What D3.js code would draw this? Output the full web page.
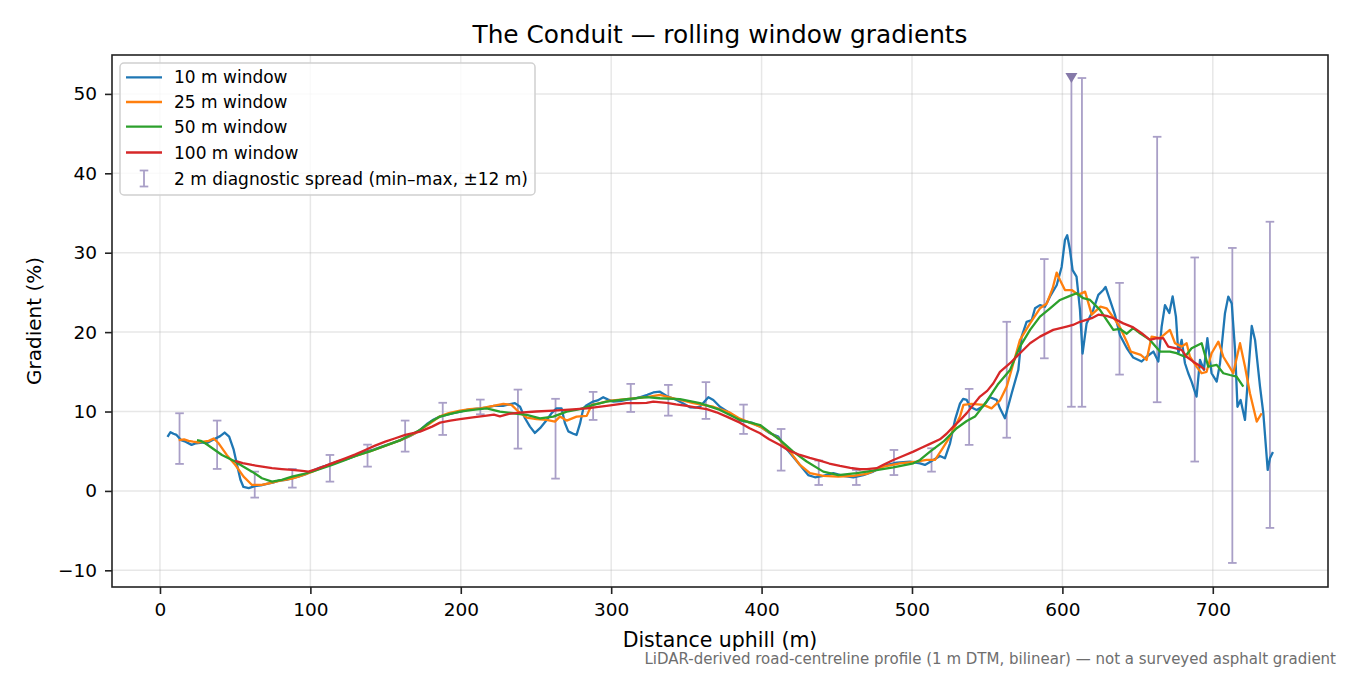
<!DOCTYPE html>
<html><head><meta charset="utf-8">
<script src="https://cdn.jsdelivr.net/npm/d3@7/dist/d3.min.js"></script>
<style>body{margin:0;background:#fff}svg{font-family:"DejaVu Sans",sans-serif}</style>
</head><body><svg id="c" width="1350" height="675"></svg>
<script>
const xTicks=[0,100,200,300,400,500,600,700];
const yTicks=[-10,0,10,20,30,40,50];
const seriesNames=["10 m window","25 m window","50 m window","100 m window"];
const seriesColors=["#1f77b4","#ff7f0e","#2ca02c","#d62728"];
const w10=[[5,6.8],[7,7.4],[9,7.2],[11,7.05],[14,6.4],[17,6.2],[21,5.8],[24,6.0],[28,6.1],[31,6.0],[35,6.4],[40,6.9],[43,7.35],[46,6.84],[49,5.2],[51,3.5],[53.5,1.4],[55.5,0.5],[59,0.35],[63,0.6],[67,0.7],[71,0.9],[75,1.05],[79,1.3],[84,1.4],[88,1.6],[92,1.8],[97,2.1],[101,2.5],[106,2.9],[112,3.3],[118,3.7],[124,4.0],[130,4.4],[136,4.9],[142,5.2],[148,5.6],[154,6.0],[160,6.4],[166,6.9],[170,7.3],[173,7.7],[178,8.5],[182,9.0],[186,9.36],[191,9.6],[195,9.8],[200,10.0],[204,10.2],[208,10.3],[213,10.4],[217,10.5],[222,10.7],[228,10.7],[232,10.9],[236,11.05],[239.4,10.6],[242.7,9.15],[246,8.1],[249.3,7.3],[252.7,7.9],[257,8.9],[260.4,9.8],[263.7,10.4],[267,10.4],[269.3,8.5],[271.5,7.5],[274.8,7.2],[277,7.05],[279.3,8.5],[281.5,10.4],[283.7,10.8],[288,11.25],[291,11.4],[294.7,11.8],[298,11.5],[301.4,11.25],[306,11.3],[310,11.46],[315,11.6],[319,11.8],[324,12.1],[328,12.4],[332.4,12.5],[336.9,11.96],[343.5,11.46],[348,11.0],[352.4,10.54],[356,10.5],[359,10.6],[364.6,11.8],[367.9,11.46],[372.3,10.6],[379,9.78],[385.6,8.9],[393.4,8.6],[399,8.1],[405.6,7.26],[411.1,6.84],[414.5,5.79],[420,4.53],[425.5,3.27],[431,2.0],[435.5,1.72],[441,1.89],[447.7,2.23],[454.3,1.89],[461,1.72],[467.6,2.0],[474.3,2.43],[480.9,3.15],[489.8,3.57],[498.7,3.7],[505.3,3.48],[508.6,3.27],[514.2,3.9],[518.6,4.4],[521.9,4.11],[525.3,6.0],[528.6,8.94],[531.9,11.0],[534,11.6],[536.4,11.46],[538.6,10.6],[543,10.2],[547.5,10.7],[551.8,11.8],[556.3,11.46],[558.5,10.4],[561.8,9.15],[566.3,12.3],[570.7,15.24],[572.9,19.43],[576.2,21.3],[579.6,21.5],[581.8,23],[585.1,23.4],[588.4,23.2],[591.8,24.5],[596.2,25.9],[599.5,28.2],[601.7,31.6],[603.2,32.2],[605,30.4],[606.8,27.8],[609.4,27],[611.7,22.8],[613.4,17.3],[616.1,21.1],[620.5,22.8],[623.9,24.7],[627.2,25.3],[628.7,25.7],[631.6,24.05],[634.9,22.2],[638.3,19.6],[642.8,18.0],[647.1,16.8],[652.7,16.3],[656,16.9],[660.5,17.55],[663.8,16.3],[666,20.7],[668.2,23.4],[671.1,22.4],[673.3,24.5],[675.5,21.95],[677.1,17.34],[679.3,19.02],[681.5,16.08],[683.7,14.82],[685.9,13.77],[689.2,11.88],[691.5,16.5],[694.1,15.24],[696.4,19.23],[699.2,14.82],[702.6,13.77],[704.8,16.08],[708.1,22.38],[710.3,24.47],[712.6,23.6],[714.8,17.76],[716.4,10.6],[718.5,11.46],[721.4,8.94],[723.6,14.82],[725.9,20.78],[728.1,19.02],[731.4,13.14],[733.6,9.78],[736.5,2.64],[738,4.1],[740,4.9]];
const w25=[[12.4,6.4],[16,6.5],[19,6.3],[22,6.2],[25.7,6.1],[29,6.2],[32.4,6.3],[35.7,6.6],[39,6.0],[44.5,4.5],[50,3.3],[55.6,1.8],[61.2,0.75],[67.8,0.75],[74.5,1.05],[80,1.3],[87.8,1.55],[95,2.0],[101,2.4],[110,3.1],[120,3.8],[130,4.4],[140,5.0],[150,5.7],[160,6.4],[170,7.3],[178,8.3],[186.2,9.4],[192,9.8],[199.5,10.1],[206,10.3],[212.8,10.4],[221.6,10.7],[228.3,10.96],[233.7,10.83],[238.2,10.0],[243.8,9.24],[250.4,9.03],[257.1,8.94],[262.6,8.73],[265.9,9.36],[270.4,8.86],[277,9.36],[283.7,9.45],[287,10.83],[292.6,11.05],[299.2,11.37],[310.2,11.55],[323.5,11.8],[332.4,12.1],[341.3,11.67],[354.6,11.05],[367.9,10.6],[379,9.86],[385.6,9.1],[392,8.6],[399,8.1],[405,7.4],[411.1,6.63],[418.9,4.95],[425.5,3.27],[432.2,2.23],[441,1.89],[451,1.8],[461,1.89],[469.8,2.14],[480.9,3.06],[492,3.48],[503.1,3.7],[509.7,3.9],[515.3,3.9],[519.7,5.16],[525.3,6.84],[531.9,9.36],[534.2,10.83],[539.7,10.96],[547.5,10.83],[552.9,10.4],[558.5,11.4],[563,13.14],[567.4,16.08],[571.8,19.02],[578.5,21.1],[585.1,23],[589.6,23.6],[593.5,25.5],[596.2,27.5],[598.4,26.57],[601.7,25.3],[606.2,25.3],[610.6,24.7],[615.1,25.1],[619.5,22.2],[625.3,23.2],[629.4,23.0],[634.3,21.75],[638.3,20.6],[642.8,18.8],[645.5,17.55],[652.1,17.13],[656,16.5],[659.3,19.43],[664.9,19.23],[671.5,20.28],[674.9,18.6],[679.3,18.17],[682.6,18.6],[684.8,16.9],[689.2,15.66],[692.6,14.82],[695.9,15.0],[699.2,17.34],[703.7,18.8],[707,16.9],[710.3,15.87],[713.6,14.82],[718.1,18.6],[721.4,15.66],[724.7,12.3],[729.2,8.73],[732.5,9.78]];
const w50=[[24.6,6.4],[27,6.3],[30.1,6.0],[34.6,5.4],[41.2,4.53],[50,3.7],[55,3.1],[61.2,2.43],[67.8,1.6],[74.5,1.17],[81,1.4],[87.8,1.8],[95,2.1],[101,2.43],[107,2.8],[114.4,3.27],[122,3.8],[130,4.4],[140,5.0],[150,5.7],[160,6.4],[172.9,7.68],[180,8.7],[186.2,9.36],[193,9.7],[199.5,9.99],[208,10.2],[217.2,10.4],[226,9.99],[234.9,9.78],[243.8,9.57],[252.7,9.15],[261.5,9.36],[270.4,9.99],[279.3,10.29],[288.1,10.83],[296.9,11.25],[310.2,11.55],[323.5,11.8],[332.4,11.67],[345.7,11.55],[359,11.05],[372.3,10.2],[385.6,8.94],[399,8.3],[412.2,6.42],[421,4.95],[430,3.7],[441,2.43],[451,2.0],[463.2,2.23],[474.3,2.56],[487.6,2.98],[500.9,3.48],[505.3,3.9],[512,4.95],[520.8,6.2],[529.7,7.89],[536.4,8.8],[541.9,9.36],[549.7,11.3],[557,13.4],[565.2,15.24],[571.8,18.17],[578.5,20.28],[585.1,21.95],[591.8,23],[598.4,24.05],[605,24.56],[609.5,24.9],[613.9,24.27],[618.4,24.05],[625,22.8],[629.5,21.5],[633.9,20.28],[638.3,20.4],[642.8,19.8],[647.1,20.5],[651.6,19.86],[658.2,19.02],[664.9,17.55],[671.5,17.55],[675.9,17.34],[681.5,16.9],[685.9,17.97],[692.6,18.6],[697,15.66],[702.6,15.87],[707,14.82],[711.4,14.6],[715.8,14.4],[720.3,13.14]];
const w100=[[50,3.78],[55,3.5],[61.2,3.27],[68,3.05],[74.5,2.86],[81,2.75],[87.8,2.64],[93,2.55],[98.8,2.43],[104,2.75],[109.9,3.15],[116,3.6],[123.2,4.1],[130,4.6],[136.5,5.16],[143,5.7],[149.8,6.2],[156,6.6],[163.1,7.05],[172.9,7.47],[180.9,8.1],[186.2,8.6],[193,8.85],[199.5,9.03],[208,9.25],[217.2,9.48],[222,9.6],[226,9.4],[232,9.7],[239.4,9.86],[250,10.0],[261.5,10.11],[272,10.25],[283.7,10.4],[296.9,10.7],[310.2,11.05],[318,11.05],[323.5,11.1],[328,11.25],[336.9,11.1],[343,10.9],[350.2,10.7],[357,10.5],[363.5,10.29],[370,9.9],[376.8,9.36],[385.6,8.6],[392,7.9],[399,7.26],[405,6.5],[412.2,5.79],[418,5.1],[425.5,4.53],[432,4.15],[438.8,3.82],[445,3.45],[452.1,3.15],[459,2.9],[465.4,2.73],[470,2.75],[476.5,2.86],[481,3.3],[487.6,3.9],[494,4.4],[500.9,4.95],[506,5.4],[512,5.92],[518.6,6.5],[523,7.2],[527.5,8.1],[532,8.9],[536.4,9.8],[541,10.9],[545.2,11.88],[550,12.6],[554.1,13.56],[558.5,15.0],[565.2,16.08],[571.8,17.34],[578.5,18.6],[585.1,19.43],[593.9,20.28],[602.8,20.7],[607,20.9],[611.7,21.3],[619.5,21.75],[623.9,22.2],[629.5,22.04],[633.9,21.75],[640.5,21.1],[647.1,20.6],[652.7,19.86],[658.2,19.02],[662.7,19.23],[667.1,19.23],[670.4,18.17],[674.9,17.97],[679.3,17.76],[682.6,16.9],[687,16.28],[691.5,15.74],[694.8,15.24]];
// diagnostic spread: [distance, min, max]
const spread=[[13,3.4,9.78],[38,2.77,8.86],[63,-0.84,2.43],[88,0.42,2.77],[113,1.17,4.53],[138,3.06,5.83],[163,4.95,8.86],[188,7.05,11.1],[213,9.65,11.5],[238,5.33,12.76],[263,1.55,11.6],[288,8.94,12.47],[313,9.95,13.48],[338,9.48,13.35],[363,9.07,13.7],[388,7.18,10.87],[413,2.56,7.8],[438,0.75,3.82],[463,0.75,2.64],[488,2.0,5.16],[513,2.43,5.37],[538,5.8,12.85],[563,6.7,21.3],[588,16.7,29.2],[613,10.6,52],[638,14.65,26.2],[663,11.17,44.6],[688,3.7,29.4],[713,-9.07,30.6],[738,-4.66,33.9]];
// clipped spread (max beyond plotted cap, marked with triangle)
const clipped=[[606,10.6,52]];

const svg=d3.select("#c");
const L=112,R=1328,T=55,B=587;
const x=d3.scaleLinear().domain([-31.9,776.6]).range([L,R]);
const y=d3.scaleLinear().domain([-12.1,54.9]).range([B,T]);

const g=svg.append("g");
g.selectAll(".gx").data(xTicks).enter().append("line").attr("x1",d=>x(d)).attr("x2",d=>x(d)).attr("y1",T).attr("y2",B).attr("stroke","#b0b0b0").attr("stroke-opacity",0.3).attr("stroke-width",1.5);
g.selectAll(".gy").data(yTicks).enter().append("line").attr("y1",d=>y(d)).attr("y2",d=>y(d)).attr("x1",L).attr("x2",R).attr("stroke","#b0b0b0").attr("stroke-opacity",0.3).attr("stroke-width",1.5);

const barCol="#a99fc7";
const cap=4.3;
const eb=g.append("g");
spread.forEach(s=>{
  eb.append("line").attr("x1",x(s[0])).attr("x2",x(s[0])).attr("y1",y(s[1])).attr("y2",y(s[2])).attr("stroke",barCol).attr("stroke-width",1.8);
  [s[1],s[2]].forEach(v=>eb.append("line").attr("x1",x(s[0])-cap).attr("x2",x(s[0])+cap).attr("y1",y(v)).attr("y2",y(v)).attr("stroke",barCol).attr("stroke-width",1.8));
});
clipped.forEach(s=>{
  eb.append("line").attr("x1",x(s[0])).attr("x2",x(s[0])).attr("y1",y(s[1])).attr("y2",y(s[2])).attr("stroke",barCol).attr("stroke-width",1.8);
  eb.append("line").attr("x1",x(s[0])-cap).attr("x2",x(s[0])+cap).attr("y1",y(s[1])).attr("y2",y(s[1])).attr("stroke",barCol).attr("stroke-width",1.8);
  const cx=x(s[0]),cy=y(s[2]);
  eb.append("path").attr("d",`M${cx-6},${cy-5}L${cx+6},${cy-5}L${cx},${cy+5}Z`).attr("fill","#8579a9");
});

const line=d3.line().x(d=>x(d[0])).y(d=>y(d[1]));
[w10,w25,w50,w100].forEach((s,i)=>{
  g.append("path").datum(s).attr("d",line).attr("fill","none").attr("stroke",seriesColors[i]).attr("stroke-width",2.3).attr("stroke-linejoin","round").attr("stroke-linecap","butt");
});

const xa=svg.append("g").attr("transform",`translate(0,${B})`).call(d3.axisBottom(x).tickValues(xTicks).tickSize(7).tickPadding(9).tickFormat(d3.format("d")));
const ya=svg.append("g").attr("transform",`translate(${L},0)`).call(d3.axisLeft(y).tickValues(yTicks).tickSize(7).tickPadding(8).tickFormat(d=>d<0?"\u2212"+Math.abs(d):d));
[xa,ya].forEach(a=>{a.select(".domain").remove();a.selectAll("text").attr("font-size",18.5).attr("fill","#000").attr("font-family","DejaVu Sans");a.selectAll(".tick line").attr("stroke","#222").attr("stroke-width",1.6);});
svg.append("rect").attr("x",L).attr("y",T).attr("width",R-L).attr("height",B-T).attr("fill","none").attr("stroke","#222").attr("stroke-width",1.6);

svg.append("text").attr("x",(L+R)/2).attr("y",43).attr("text-anchor","middle").attr("font-size",24.8).text("The Conduit \u2014 rolling window gradients");
svg.append("text").attr("x",(L+R)/2).attr("y",647).attr("text-anchor","middle").attr("font-size",20.5).text("Distance uphill (m)");
svg.append("text").attr("transform",`translate(41,${(T+B)/2}) rotate(-90)`).attr("text-anchor","middle").attr("font-size",20).text("Gradient (%)");
svg.append("text").attr("x",1336).attr("y",664).attr("text-anchor","end").attr("font-size",15).attr("fill","#6e6e6e").text("LiDAR-derived road-centreline profile (1 m DTM, bilinear) \u2014 not a surveyed asphalt gradient");

const lg=svg.append("g");
lg.append("rect").attr("x",120).attr("y",63).attr("width",415).attr("height",132).attr("rx",4).attr("fill","#fff").attr("fill-opacity",0.8).attr("stroke","#d0d0d0").attr("stroke-width",1.5);
const rows=[77.3,102,126.7,152.5];
seriesNames.forEach((n,i)=>{
  lg.append("line").attr("x1",126).attr("x2",162).attr("y1",rows[i]).attr("y2",rows[i]).attr("stroke",seriesColors[i]).attr("stroke-width",2.3);
  lg.append("text").attr("x",174).attr("y",rows[i]+6).attr("font-size",17).text(n);
});
const ly=178.5;
lg.append("line").attr("x1",144).attr("x2",144).attr("y1",ly-8).attr("y2",ly+8).attr("stroke",barCol).attr("stroke-width",1.8);
[ly-8,ly+8].forEach(v=>lg.append("line").attr("x1",144-cap).attr("x2",144+cap).attr("y1",v).attr("y2",v).attr("stroke",barCol).attr("stroke-width",1.8));
lg.append("text").attr("x",174).attr("y",ly+6).attr("font-size",17).text("2 m diagnostic spread (min\u2013max, \u00b112 m)");
</script></body></html>
